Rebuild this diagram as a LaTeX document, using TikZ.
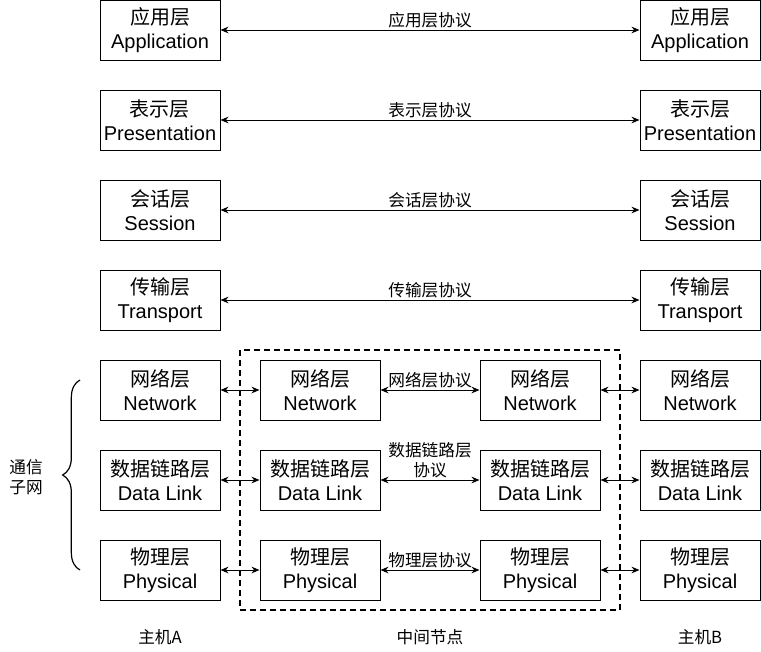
\documentclass[tikz,border=0pt]{standalone}
\usepackage{fontspec}
\setmainfont{Liberation Sans}
\newfontfamily\cjk{Noto Sans CJK SC}
\usetikzlibrary{arrows.meta,decorations.pathreplacing}

\newcommand{\layertext}[2]{{\cjk #1}\\#2}

\tikzset{
  layer/.style={draw, line width=0.75pt, minimum width=90pt, minimum height=45pt,
    inner sep=0pt, align=center, font=\fontsize{15}{18}\selectfont},
  proto/.style={<->, >={Stealth[length=6pt,width=5pt]}, line width=0.75pt},
  protolabel/.style={font=\cjk\fontsize{12.5}{15}\selectfont, align=center, inner sep=1pt},
}

\begin{document}
\begin{tikzpicture}[x=0.75pt,y=-0.75pt]
\useasboundingbox (0,0) rectangle (761,651);
% end systems
\foreach \name/\zh/\en/\y in {app/应用层/Application/30, pre/表示层/Presentation/120,
  ses/会话层/Session/210, tra/传输层/Transport/300, net/网络层/Network/390,
  dl/数据链路层/Data Link/480, phy/物理层/Physical/570}
{
  \node[layer] (A\name) at (160,\y) {\layertext{\zh}{\en}};
  \node[layer] (B\name) at (700,\y) {\layertext{\zh}{\en}};
}
% intermediate node
\foreach \name/\zh/\en/\y in {net/网络层/Network/390, dl/数据链路层/Data Link/480,
  phy/物理层/Physical/570}
{
  \node[layer] (M\name) at (320,\y) {\layertext{\zh}{\en}};
  \node[layer] (N\name) at (540,\y) {\layertext{\zh}{\en}};
  \draw[proto] (A\name) -- (M\name);
  \draw[proto] (N\name) -- (B\name);
}
% peer protocols
\draw[proto] (Aapp) -- (Bapp) node[midway, above, protolabel] (papp) {应用层协议};
\draw[proto] (Apre) -- (Bpre) node[midway, above, protolabel] (ppre) {表示层协议};
\draw[proto] (Ases) -- (Bses) node[midway, above, protolabel] (pses) {会话层协议};
\draw[proto] (Atra) -- (Btra) node[midway, above, protolabel] (ptra) {传输层协议};
\draw[proto] (Mnet) -- (Nnet) node[midway, above, protolabel] (pnet) {网络层协议};
\draw[proto] (Mdl) -- (Ndl) node[midway, above, protolabel] (pdl) {数据链路层\\协议};
\draw[proto] (Mphy) -- (Nphy) node[midway, above, protolabel] (pphy) {物理层协议};
% subnet frame and brace
\draw[line width=1.3pt, dash pattern=on 4.5pt off 3pt] (240,350) rectangle (620,610);
\draw[line width=0.9pt, decorate, decoration={brace, amplitude=13pt}] (80,570) -- (80,380);
\node[protolabel] (subnet) at (26,477) {通信\\子网};
\node[protolabel] (hostA) at (160,637) {主机A};
\node[protolabel] (mid) at (430,637) {中间节点};
\node[protolabel] (hostB) at (700,637) {主机B};
\end{tikzpicture}
\end{document}
